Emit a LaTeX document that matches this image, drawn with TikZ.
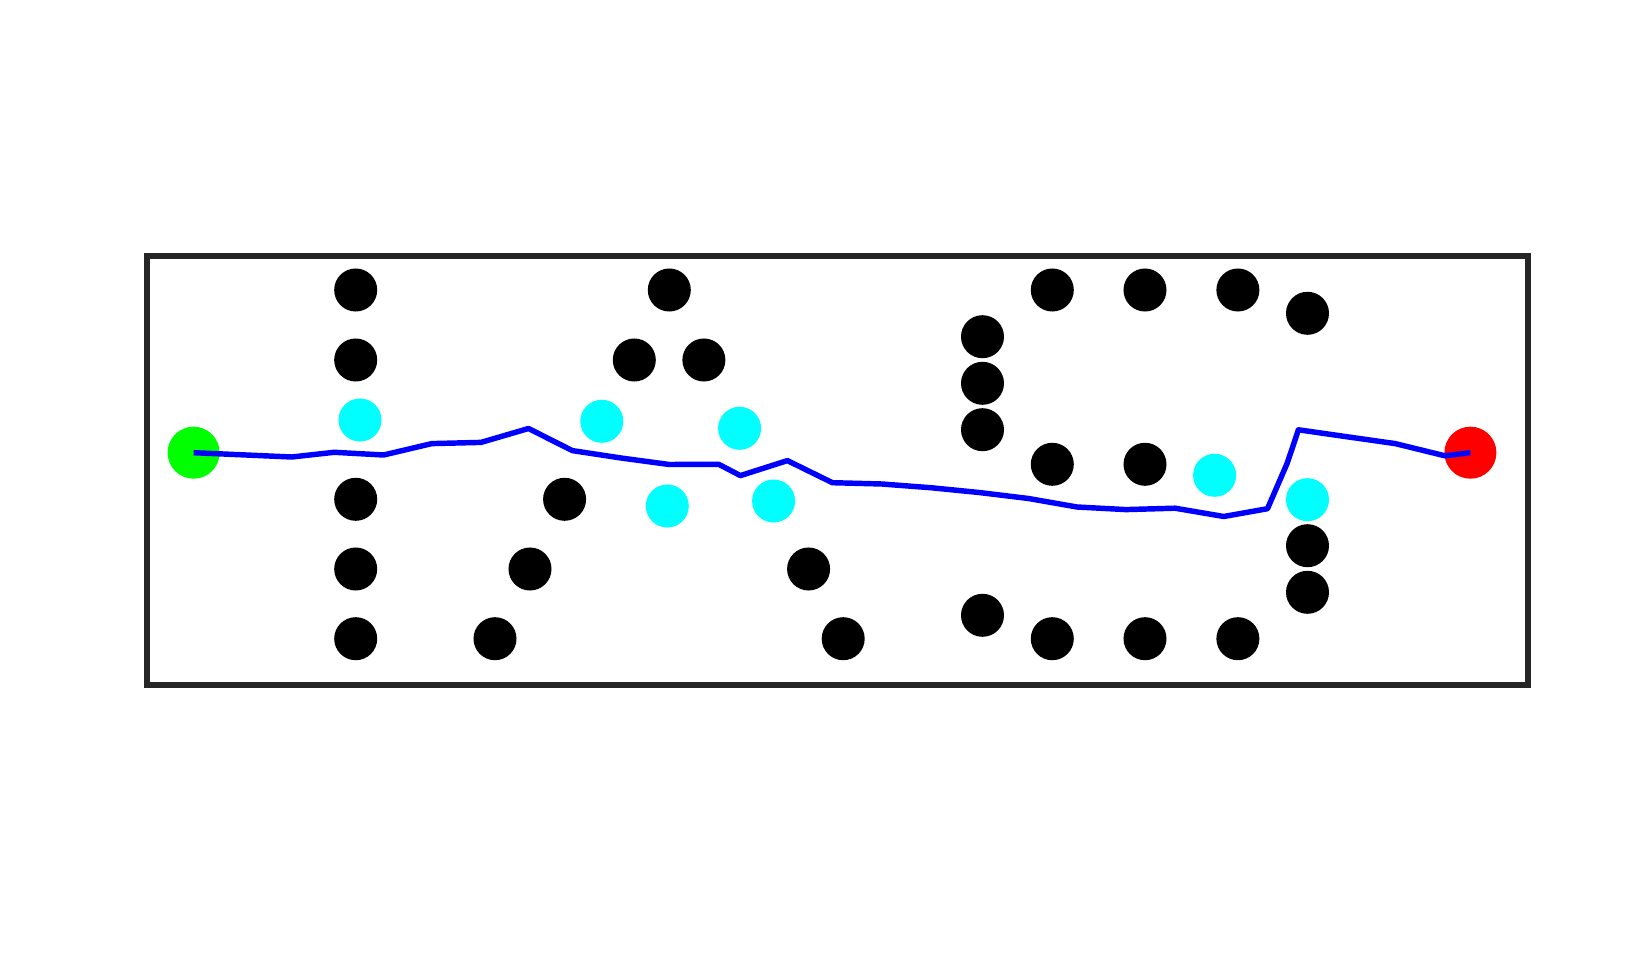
\documentclass[tikz,border=0pt]{standalone}
\definecolor{aqua}{RGB}{0,255,255}
\definecolor{lime}{RGB}{0,255,0}
\definecolor{pure red}{RGB}{255,0,0}
\definecolor{pure blue}{RGB}{0,0,255}
\definecolor{framegray}{RGB}{38,38,38}
\begin{document}
\begin{tikzpicture}[x=0.01cm,y=-0.01cm,
  obs/.style={circle,fill=black,draw=none,minimum size=0.43cm,inner sep=0pt},
  free/.style={circle,fill=aqua,draw=none,minimum size=0.43cm,inner sep=0pt},
  startpt/.style={circle,fill=lime,draw=none,minimum size=0.52cm,inner sep=0pt},
  goalpt/.style={circle,fill=pure red,draw=none,minimum size=0.52cm,inner sep=0pt},
  route/.style={draw=pure blue,line width=1.55pt,line join=round},
  frame/.style={draw=framegray,line width=1.45pt}]
\useasboundingbox (0,0) rectangle (1635,970);
\draw[frame] (147,256) rectangle (1528,685);
% black obstacles
\foreach \n/\x/\y in {a1/355.7/290, a2/355.7/360, a3/355.7/499.3, a4/355.7/569, a5/355.7/638.7,
  b1/669.3/290, b2/634.3/360, b3/703.9/360, b4/564.6/499.3, b5/530/569, b6/495/638.7,
  b7/808.6/569, b8/843.2/638.7,
  c1/982.5/336.7, c2/982.5/383.3, c3/982.5/429.7, c4/982.5/615.3,
  d1/1052.3/290, d2/1145/290, d3/1237.9/290, d4/1307.5/313.3,
  d5/1052.3/464.3, d6/1145/464.3,
  d7/1307.5/545.7, d8/1307.5/592.3,
  d9/1052.3/638.7, d10/1145/638.7, d11/1237.9/638.7}
  \node[obs] (\n) at (\x,\y) {};
% cyan points
\foreach \n/\x/\y in {f1/360/420, f2/601.8/421.3, f3/739.6/428.3, f4/667.3/506,
  f5/773.6/501, f6/1214.6/475.3, f7/1307.5/499.7}
  \node[free] (\n) at (\x,\y) {};
\node[startpt] (start) at (193.6,452.7) {};
\node[goalpt] (goal) at (1470.4,452.7) {};
% path vertices
\foreach \n/\x/\y in {p1/291.7/457, p2/334.2/452.3, p3/383.6/455, p4/431.8/443.6,
  p5/481/442.4, p6/528.5/428.5, p7/572.3/450.6, p8/621/458, p9/669.3/464.5,
  p10/718.7/464.3, p11/740.4/475.6, p12/787.4/460.6, p13/832.4/482.7,
  p14/881.8/484, p15/931.8/487.8, p16/979.9/492.6, p17/1028.5/498.5,
  p18/1077/507, p19/1125.9/509.6, p20/1175/508.2, p21/1223.8/516.5,
  p22/1267.5/508.7, p23/1287.2/463.2, p24/1298.4/429.8, p25/1347.3/436.8,
  p26/1395.2/443.6, p27/1444.9/455.8}
  \coordinate (\n) at (\x,\y);
\draw[route] (start.center) -- (p1) -- (p2) -- (p3) -- (p4) -- (p5) -- (p6) -- (p7)
  -- (p8) -- (p9) -- (p10) -- (p11) -- (p12) -- (p13) -- (p14) -- (p15) -- (p16)
  -- (p17) -- (p18) -- (p19) -- (p20) -- (p21) -- (p22) -- (p23) -- (p24) -- (p25)
  -- (p26) -- (p27) -- (goal.center);
\end{tikzpicture}
\end{document}
